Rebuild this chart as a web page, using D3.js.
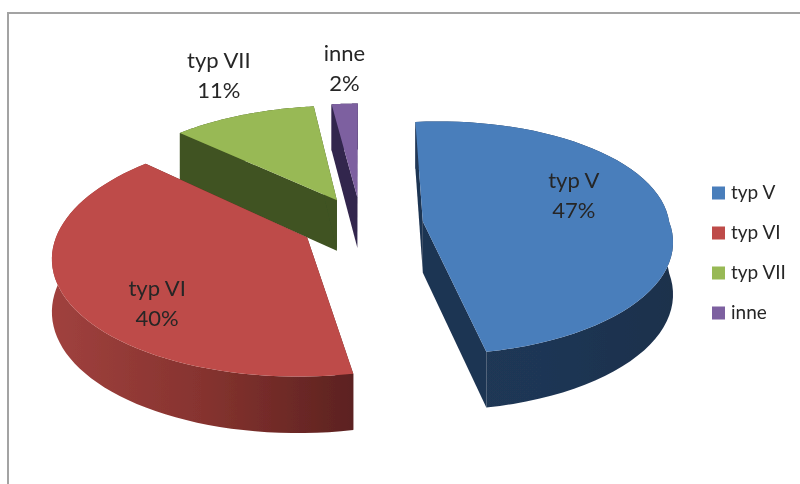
<!DOCTYPE html>
<html><head><meta charset="utf-8">
<script src="https://cdn.jsdelivr.net/npm/d3@7/dist/d3.min.js"></script>
<style>html,body{margin:0;padding:0;background:#fff;overflow:hidden}svg{display:block}text{font-family:Lato,"Open Sans",sans-serif;fill:#262626}</style>
</head><body><svg id="c" width="800" height="484"></svg>
<script>
const categories = ["typ V","typ VI","typ VII","inne"];
const values = [47,40,11,2];
const percentLabels = ["47%","40%","11%","2%"];
const topColors = ["#4a7ebb","#be4b48","#98b954","#7d60a0"];
const cutColors = ["#1e3452","#5f2321","#3f5222","#33264d"];
const wallStops = [["#203857","#1f3654","#1c304c"],["#a0413e","#86332f","#5c2220"],["#3f5222","#3f5222","#3f5222"],["#33264d","#33264d","#33264d"]];
const labelOffsets = [[151,-33],[-150,59],[-118,-132],[-13,-136]];
const sliceNudge = [3,-1,2,0];
const rimBulge = [.055,0,0,0];
const G = {cx:361,cy:224,A:247,B:114.6,p:.145,ex:.24,depth:51.5,depthSlope:4.5};

const svg = d3.select("#c");
const defs = svg.append("defs");
defs.append("filter").attr("id","soft").attr("x","-5%").attr("y","-5%").attr("width","110%").attr("height","110%")
  .append("feGaussianBlur").attr("stdDeviation",.55);

const arcs = d3.pie().sort(null).value(d=>d).startAngle(0).endAngle(2*Math.PI)(values);
function project(X,Y,z){
  const w = 1+G.p*Y;
  return [G.cx+G.A*X/w, G.cy-G.B*Y/w+z*(G.depth-G.depthSlope*Y)];
}
const line = d3.line();
const root = svg.append("g").attr("filter","url(#soft)");
root.append("path").attr("d",`M8 490V13H806`).attr("fill","none").attr("stroke","#a3a3a3").attr("stroke-width",2);

const order = [3,2,0,1];
const apexes = {};
order.forEach(i=>{
  const a = arcs[i], mid=(a.startAngle+a.endAngle)/2;
  const ox=G.ex*Math.sin(mid), oy=G.ex*Math.cos(mid);
  const pt=(t,r,z)=>{
    const b = (r>0 && t<Math.PI/2) ? 1+rimBulge[i]*Math.sin(2*t) : 1;
    const p=project(ox+r*b*Math.sin(t),oy+r*b*Math.cos(t),z);
    return [p[0]+sliceNudge[i],p[1]];
  };
  const angles=d3.range(0,61).map(k=>a.startAngle+(a.endAngle-a.startAngle)*k/60);
  apexes[i]=pt(0,0,0);
  const g=root.append("g");
  [a.startAngle,a.endAngle].forEach(t=>{
    g.append("path").attr("d",line([pt(t,0,0),pt(t,1,0),pt(t,1,1),pt(t,0,1)])+"Z").attr("fill",cutColors[i]);
  });
  const rimTop=angles.map(t=>pt(t,1,0)), rimBot=angles.map(t=>pt(t,1,1)).reverse();
  const xs=rimTop.map(p=>p[0]);
  const gid="w"+i;
  const lg=defs.append("linearGradient").attr("id",gid).attr("gradientUnits","userSpaceOnUse")
    .attr("x1",d3.min(xs)).attr("x2",d3.max(xs)).attr("y1",0).attr("y2",0);
  wallStops[i].forEach((c,k)=>lg.append("stop").attr("offset",k/2).attr("stop-color",c));
  g.append("path").attr("d",line(rimTop.concat(rimBot))+"Z").attr("fill",`url(#${gid})`);
  g.append("path").attr("d",line([pt(0,0,0)].concat(rimTop))+"Z").attr("fill",topColors[i]);
});
categories.forEach((c,i)=>{
  const [x,y]=apexes[i],[dx,dy]=labelOffsets[i];
  const t=root.append("text").attr("text-anchor","middle").attr("font-size",22).attr("x",x+dx).attr("y",y+dy);
  t.append("tspan").attr("x",x+dx).text(c);
  t.append("tspan").attr("x",x+dx).attr("dy",30).text(percentLabels[i]);
});
const legendY=d3.scalePoint().domain(categories).range([193,313]);
categories.forEach((c,i)=>{
  root.append("rect").attr("x",712).attr("y",legendY(c)-6.5).attr("width",13).attr("height",13).attr("fill",topColors[i]);
  root.append("text").attr("x",731).attr("y",legendY(c)+6).attr("font-size",19).text(c);
});
</script></body></html>
